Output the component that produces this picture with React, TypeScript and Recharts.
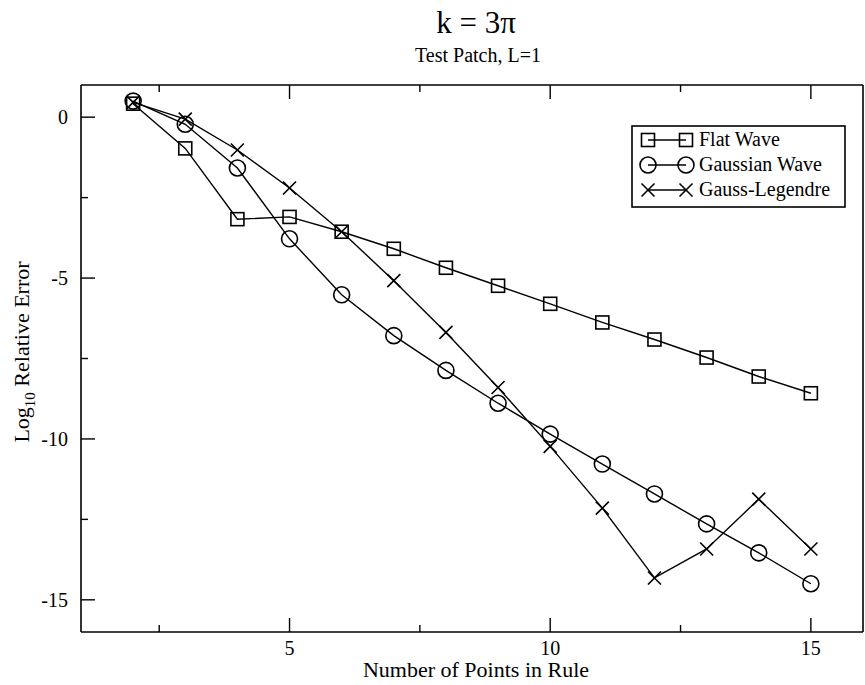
import React from 'react';
import { LineChart, Line, XAxis, YAxis, Legend } from 'recharts';

const pointsInRule = [2, 3, 4, 5, 6, 7, 8, 9, 10, 11, 12, 13, 14, 15];
const flatWave = [0.42, -0.97, -3.17, -3.1, -3.56, -4.09, -4.68, -5.24, -5.8, -6.38, -6.91, -7.47, -8.06, -8.58];
const gaussianWave = [0.5, -0.22, -1.58, -3.78, -5.52, -6.79, -7.87, -8.89, -9.85, -10.78, -11.71, -12.64, -13.54, -14.5];
const gaussLegendre = [0.46, -0.06, -1.02, -2.2, -3.56, -5.08, -6.69, -8.4, -10.23, -12.15, -14.32, -13.42, -11.87, -13.42];

const xTicks = [2.5, 5, 7.5, 10, 12.5, 15];
const yTicks = [-15, -12.5, -10, -7.5, -5, -2.5, 0];
const xMajorLabels = [5, 10, 15];
const yMajorLabels = [0, -5, -10, -15];

const seriesNames = ['Flat Wave', 'Gaussian Wave', 'Gauss-Legendre'];

const data = pointsInRule.map((x, i) => ({
  x,
  flat: flatWave[i],
  gauss: gaussianWave[i],
  gl: gaussLegendre[i],
}));

const FONT = '"Liberation Serif", "Times New Roman", serif';
const MAJOR = 14;
const MINOR = 7;

const SquareMark = ({ cx, cy }: any) => (
  <rect x={cx - 6.5} y={cy - 6.5} width={13} height={13} fill="none" stroke="#000" strokeWidth={1.6} />
);
const CircleMark = ({ cx, cy }: any) => (
  <circle cx={cx} cy={cy} r={8} fill="none" stroke="#000" strokeWidth={1.6} />
);
const CrossMark = ({ cx, cy }: any) => (
  <g>
    <line x1={cx - 6.5} y1={cy - 6.5} x2={cx + 6.5} y2={cy + 6.5} stroke="#000" strokeWidth={1.6} />
    <line x1={cx - 6.5} y1={cy + 6.5} x2={cx + 6.5} y2={cy - 6.5} stroke="#000" strokeWidth={1.6} />
  </g>
);

const BottomTick = (props: any) => {
  const { x, y, payload } = props;
  const major = xMajorLabels.includes(payload.value);
  return (
    <g>
      <line x1={x} x2={x} y1={y} y2={y - (major ? MAJOR : MINOR)} stroke="#000" strokeWidth={1.4} />
      {major && (
        <text x={x} y={y + 23} textAnchor="middle" fontFamily={FONT} fontSize={20} fill="#000">
          {payload.value}
        </text>
      )}
    </g>
  );
};
const TopTick = (props: any) => {
  const { x, y, payload } = props;
  const major = xMajorLabels.includes(payload.value);
  return <line x1={x} x2={x} y1={y} y2={y + (major ? MAJOR : MINOR)} stroke="#000" strokeWidth={1.4} />;
};
const LeftTick = (props: any) => {
  const { x, y, payload } = props;
  const major = yMajorLabels.includes(payload.value);
  return (
    <g>
      <line x1={x} x2={x + (major ? MAJOR : MINOR)} y1={y} y2={y} stroke="#000" strokeWidth={1.4} />
      {major && (
        <text x={x - 13} y={y + 7} textAnchor="end" fontFamily={FONT} fontSize={20} fill="#000">
          {payload.value}
        </text>
      )}
    </g>
  );
};
const RightTick = (props: any) => {
  const { x, y, payload } = props;
  const major = yMajorLabels.includes(payload.value);
  return <line x1={x} x2={x - (major ? MAJOR : MINOR)} y1={y} y2={y} stroke="#000" strokeWidth={1.4} />;
};

const LegendBox = () => {
  const rows = [0, 1, 2];
  const marks = [SquareMark, CircleMark, CrossMark];
  return (
    <svg width={216} height={84} style={{ display: 'block' }}>
      <rect x={1} y={1} width={213} height={81} fill="#fff" stroke="#000" strokeWidth={1.6} />
      {rows.map((i) => {
        const cy = 15 + i * 25;
        const M = marks[i];
        return (
          <g key={i}>
            <line x1={17} x2={55} y1={cy} y2={cy} stroke="#000" strokeWidth={1.4} />
            <M cx={17} cy={cy} />
            <M cx={55} cy={cy} />
            <text x={68} y={cy + 6} fontFamily={FONT} fontSize={20} fill="#000">
              {seriesNames[i]}
            </text>
          </g>
        );
      })}
    </svg>
  );
};

const axisLineStyle = { stroke: '#000', strokeWidth: 1.6 };

export default function App() {
  return (
    <div style={{ position: 'absolute', left: 0, top: 0, width: 865, height: 685, background: '#fff' }}>
      <LineChart width={865} height={685} data={data} margin={{ top: 84, right: 1, bottom: 52, left: 80 }}>
        <XAxis
          xAxisId="bottom"
          dataKey="x"
          type="number"
          domain={[1, 16]}
          ticks={xTicks}
          interval={0}
          height={1}
          tickSize={0}
          tickMargin={0}
          tickLine={false}
          axisLine={axisLineStyle}
          tick={<BottomTick />}
          label={{
            content: () => (
              <text x={476} y={677} textAnchor="middle" fontFamily={FONT} fontSize={22} fill="#000">
                Number of Points in Rule
              </text>
            ),
          }}
        />
        <XAxis
          xAxisId="top"
          orientation="top"
          dataKey="x"
          type="number"
          domain={[1, 16]}
          ticks={xTicks}
          interval={0}
          height={1}
          tickSize={0}
          tickMargin={0}
          tickLine={false}
          axisLine={axisLineStyle}
          tick={<TopTick />}
          label={{
            content: () => (
              <g>
                <text x={476} y={33} textAnchor="middle" fontFamily={FONT} fontSize={31} fill="#000">
                  k = 3π
                </text>
                <text x={478} y={62} textAnchor="middle" fontFamily={FONT} fontSize={20} fill="#000">
                  Test Patch, L=1
                </text>
              </g>
            ),
          }}
        />
        <YAxis
          yAxisId="left"
          type="number"
          domain={[-16, 1]}
          ticks={yTicks}
          interval={0}
          width={1}
          tickSize={0}
          tickMargin={0}
          tickLine={false}
          axisLine={axisLineStyle}
          tick={<LeftTick />}
          label={{
            content: () => (
              <text
                x={29}
                y={352}
                textAnchor="middle"
                transform="rotate(-90, 29, 352)"
                fontFamily={FONT}
                fontSize={22}
                fill="#000"
              >
                Log
                <tspan fontSize={15} dy={6}>10</tspan>
                <tspan dy={-6}> Relative Error</tspan>
              </text>
            ),
          }}
        />
        <YAxis
          yAxisId="right"
          orientation="right"
          type="number"
          domain={[-16, 1]}
          ticks={yTicks}
          interval={0}
          width={1}
          tickSize={0}
          tickMargin={0}
          tickLine={false}
          axisLine={axisLineStyle}
          tick={<RightTick />}
        />
        <Legend
          layout="horizontal"
          verticalAlign="middle"
          align="center"
          content={() => <LegendBox />}
          wrapperStyle={{ position: 'absolute', left: 631, top: 125, width: 216, height: 84 }}
        />
        <Line
          xAxisId="bottom"
          yAxisId="left"
          dataKey="flat"
          name={seriesNames[0]}
          stroke="#000"
          strokeWidth={1.4}
          isAnimationActive={false}
          dot={(p: any) => <SquareMark key={`s${p.index}`} cx={p.cx} cy={p.cy} />}
        />
        <Line
          xAxisId="bottom"
          yAxisId="left"
          dataKey="gauss"
          name={seriesNames[1]}
          stroke="#000"
          strokeWidth={1.4}
          isAnimationActive={false}
          dot={(p: any) => <CircleMark key={`c${p.index}`} cx={p.cx} cy={p.cy} />}
        />
        <Line
          xAxisId="bottom"
          yAxisId="left"
          dataKey="gl"
          name={seriesNames[2]}
          stroke="#000"
          strokeWidth={1.4}
          isAnimationActive={false}
          dot={(p: any) => <CrossMark key={`x${p.index}`} cx={p.cx} cy={p.cy} />}
        />
      </LineChart>
    </div>
  );
}
